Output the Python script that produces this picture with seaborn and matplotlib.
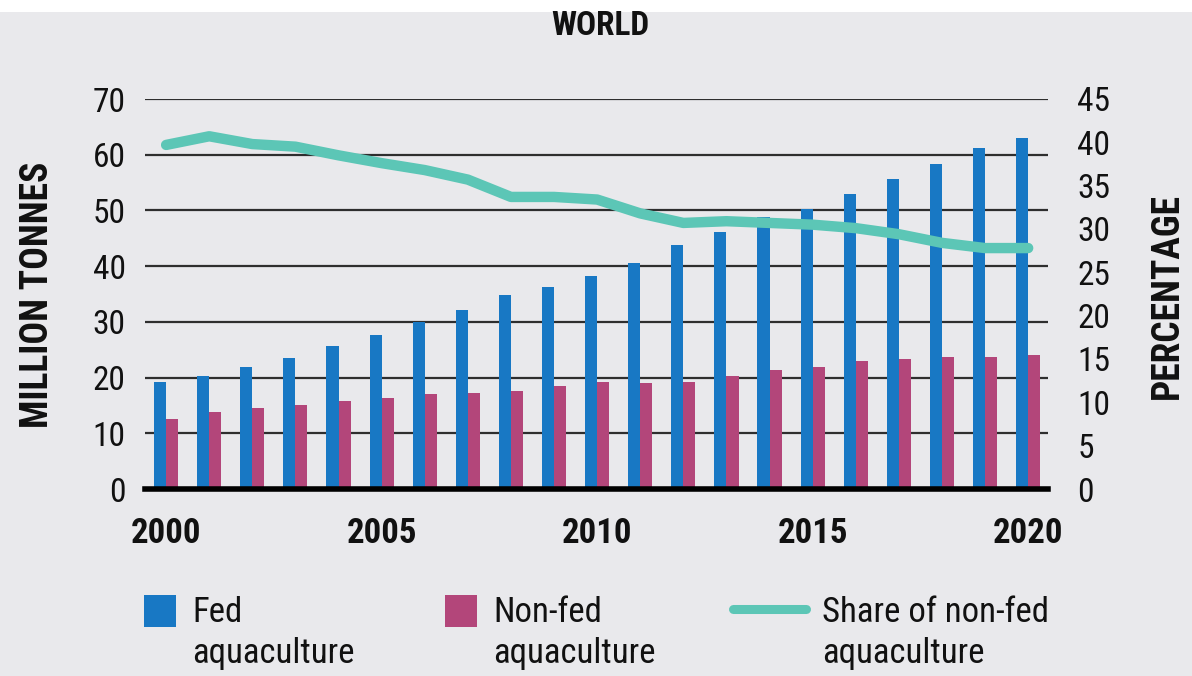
import numpy as np
import pandas as pd
import matplotlib
matplotlib.use("Agg")
import matplotlib.pyplot as plt
import seaborn as sns
from matplotlib.legend_handler import HandlerPatch, HandlerLine2D
from matplotlib.patches import Rectangle
from matplotlib.lines import Line2D

# ---- data -------------------------------------------------------------
years = list(range(2000, 2021))
fed = [19.2, 20.3, 21.9, 23.5, 25.6, 27.7, 29.9, 32.2, 34.8, 36.3, 38.3,
       40.6, 43.8, 46.1, 48.8, 50.3, 53.0, 55.6, 58.3, 61.2, 63.0]
non_fed = [12.6, 13.9, 14.5, 15.0, 15.8, 16.3, 17.1, 17.3, 17.6, 18.4, 19.2,
           19.0, 19.2, 20.3, 21.3, 21.9, 22.9, 23.4, 23.7, 23.7, 24.0]
share_non_fed = [39.7, 40.7, 39.8, 39.5, 38.5, 37.6, 36.8, 35.7, 33.7, 33.7, 33.4,
                 31.8, 30.7, 30.9, 30.7, 30.5, 30.1, 29.4, 28.4, 27.8, 27.8]

series_names = ["Fed\naquaculture", "Non-fed\naquaculture"]
line_name = "Share of non-fed\naquaculture"
x_ticks = [2000, 2005, 2010, 2015, 2020]
left_ticks = [0, 10, 20, 30, 40, 50, 60, 70]
right_ticks = [0, 5, 10, 15, 20, 25, 30, 35, 40, 45]

title = "WORLD"
left_label = "MILLION TONNES"
right_label = "PERCENTAGE"

# ---- style ------------------------------------------------------------
BG = "#e9e9ec"
BLUE = "#1878c4"
PINK = "#b3467a"
TEAL = "#5cc6b6"
GRID = "#2e2e2e"
INK = "#111111"

sns.set_style("white")
plt.rcParams["font.family"] = ["Roboto Condensed", "DejaVu Sans Condensed",
                               "Liberation Sans Narrow", "Roboto", "DejaVu Sans"]
plt.rcParams["text.color"] = INK
plt.rcParams["xtick.color"] = INK
plt.rcParams["ytick.color"] = INK

bars = pd.DataFrame({
    "year": years * 2,
    "value": fed + non_fed,
    "kind": [series_names[0]] * len(years) + [series_names[1]] * len(years),
})
line_df = pd.DataFrame({"year": years, "share": share_non_fed})

W, H = 1192, 676
fig = plt.figure(figsize=(W / 100, H / 100), dpi=100, facecolor=BG)
# white strip along the top edge
fig.patches.append(Rectangle((0, 1 - 12 / H), 1, 12 / H, transform=fig.transFigure,
                             facecolor="white", edgecolor="none", zorder=-1))

ax = fig.add_axes([145 / W, 1 - 489 / H, (1048 - 145) / W, (489 - 99) / H])
ax.set_facecolor("none")

sns.barplot(data=bars, x="year", y="value", hue="kind", native_scale=True,
            palette={series_names[0]: BLUE, series_names[1]: PINK},
            saturation=1, width=0.56, errorbar=None, linewidth=0, ax=ax)
bar_handles, bar_labels = ax.get_legend_handles_labels()
if ax.get_legend() is not None:
    ax.get_legend().remove()

ax.set_xlim(1999.51, 2020.46)
ax.set_ylim(0, 70)
ax.set_yticks(left_ticks)
ax.set_xticks(x_ticks)
ax.set_xticklabels([str(t) for t in x_ticks], fontsize=25, fontweight="bold")
ax.tick_params(axis="y", length=0, pad=14, labelsize=24, labelcolor=INK)
ax.tick_params(axis="x", length=0, pad=20, labelcolor=INK)
ax.set_axisbelow(True)
ax.yaxis.grid(True, color=GRID, linewidth=1.6)
for side in ["top", "left", "right"]:
    ax.spines[side].set_visible(False)
ax.spines["bottom"].set_color("black")
ax.spines["bottom"].set_linewidth(4)
ax.spines["bottom"].set_zorder(3)
ax.set_xlabel("")
ax.set_ylabel("")

ax2 = ax.twinx()
sns.lineplot(data=line_df, x="year", y="share", color=TEAL, linewidth=7.5,
             solid_capstyle="round", solid_joinstyle="round", ax=ax2,
             label=line_name, legend=False)
ax2.set_ylim(0, 45)
ax2.set_yticks(right_ticks)
ax2.tick_params(axis="y", length=0, pad=21, labelsize=24, labelcolor=INK)
for side in ax2.spines:
    ax2.spines[side].set_visible(False)
ax2.set_ylabel("")
ax2.set_xlabel("")
line_handle = ax2.get_lines()[0]

fig.text(600 / W, 1 - 26 / H, title, ha="center", va="center",
         fontsize=24, fontweight="bold")
fig.text(38 / W, 1 - 295 / H, left_label, ha="center", va="center",
         rotation=90, fontsize=27, fontweight="bold")
fig.text(1167 / W, 1 - 296 / H, right_label, ha="center", va="center",
         rotation=90, fontsize=27, fontweight="bold")

# ---- legend -----------------------------------------------------------
FS = 25
FS_PX = FS * 100 / 72
LINESPACING = 1.3
LIFT = 0.52 * LINESPACING * FS
HANDLE_PX = 73
PAD_PX = 16


def square_patch(legend, orig_handle, xdescent, ydescent, width, height, fontsize):
    s = 32 * 72 / 100
    cy = height / 2 - ydescent + LIFT
    return Rectangle((width - xdescent - s, cy - s / 2), s, s)


class LiftedLine(HandlerLine2D):
    def create_artists(self, legend, orig_handle, xdescent, ydescent, width,
                       height, fontsize, trans):
        artists = super().create_artists(legend, orig_handle, xdescent, ydescent,
                                         width, height, fontsize, trans)
        for a in artists:
            if isinstance(a, Line2D):
                a.set_ydata(np.asarray(a.get_ydata(), dtype=float) + LIFT)
                a.set_solid_capstyle("round")
                a.set_linewidth(6.5)
        return artists


entries = [
    (bar_handles[0], bar_labels[0], HandlerPatch(patch_func=square_patch), 192),
    (bar_handles[1], bar_labels[1], HandlerPatch(patch_func=square_patch), 493),
    (line_handle, line_name, LiftedLine(), 822),
]
for handle, label, handler, text_x in entries:
    left = text_x - PAD_PX - HANDLE_PX
    leg = fig.legend([handle], [label], handler_map={handle: handler},
                     loc="upper left", bbox_to_anchor=(left / W, 1 - 596 / H),
                     frameon=False, fontsize=FS, handlelength=HANDLE_PX / FS_PX,
                     handleheight=1.0, handletextpad=PAD_PX / FS_PX, borderpad=0,
                     borderaxespad=0, labelspacing=0)
    for t in leg.get_texts():
        t.set_linespacing(LINESPACING)

fig.savefig("out.png", dpi=100, facecolor=BG)
